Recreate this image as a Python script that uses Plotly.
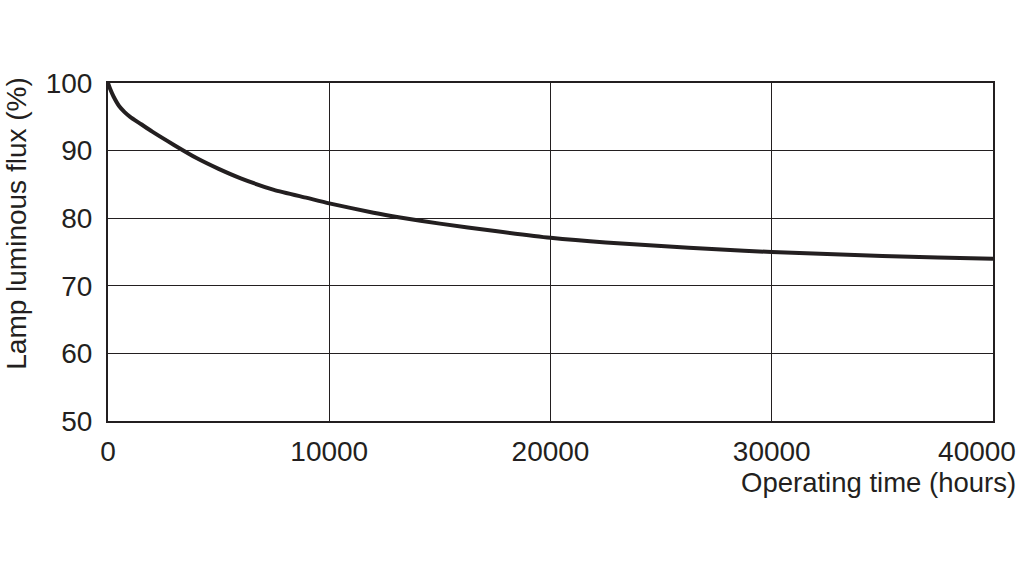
import plotly.graph_objects as go

hours = [0, 100, 250, 500, 750, 1000, 1500, 2000, 3000, 4000, 5000, 6000, 7500, 9000, 10000, 12000, 13200, 15000, 17500, 20000, 22500, 25000, 27500, 30000, 32500, 35000, 37500, 40000]
flux = [100, 99.1, 98.0, 96.6, 95.7, 95.0, 93.9, 92.8, 90.8, 88.9, 87.3, 85.9, 84.2, 83.0, 82.2, 80.8, 80.1, 79.2, 78.1, 77.1, 76.4, 75.9, 75.4, 75.0, 74.7, 74.4, 74.2, 74.0]

x_ticks = [0, 10000, 20000, 30000, 40000]
y_ticks = [50, 60, 70, 80, 90, 100]

font = "Liberation Sans, Arial, sans-serif"
ink = "#231f20"

fig = go.Figure()
fig.add_trace(go.Scatter(x=hours, y=flux, mode="lines",
                         line=dict(color=ink, width=4, shape="spline", smoothing=0.6),
                         hoverinfo="skip", showlegend=False, cliponaxis=False))

common_x = dict(range=[0, 40000], zeroline=False, ticks="",
                automargin=False, tickfont=dict(family=font, size=28, color=ink))

fig.update_layout(
    width=1024, height=578,
    margin=dict(l=108, r=31, t=83, b=157),
    paper_bgcolor="white", plot_bgcolor="white",
    font=dict(family=font, size=28, color=ink),
    xaxis=dict(**common_x, tickvals=x_ticks[:-1], ticktext=[str(v) for v in x_ticks[:-1]],
               showgrid=True, gridcolor=ink, gridwidth=1, ticklabelstandoff=4,
               showline=True, linecolor=ink, linewidth=2, mirror=True),
    xaxis2=dict(**common_x, tickvals=x_ticks[-1:], ticktext=[str(v) for v in x_ticks[-1:]],
                overlaying="x", side="bottom", showgrid=False, showline=False,
                ticklabelstandoff=11, ticklabelshift=-16, ticklabeloverflow="allow"),
    yaxis=dict(range=[50, 100], tickvals=y_ticks, ticktext=[str(v) for v in y_ticks],
               showgrid=True, gridcolor=ink, gridwidth=1, automargin=False,
               showline=True, linecolor=ink, linewidth=2, mirror=True,
               zeroline=False, ticks="", ticklabelstandoff=8,
               tickfont=dict(family=font, size=28, color=ink)),
    annotations=[
        dict(text="Operating time (hours)", xref="paper", yref="paper",
             x=1.028, y=-0.183, xanchor="right", yanchor="middle", showarrow=False,
             font=dict(family=font, size=27.5, color=ink)),
        dict(text="Lamp luminous flux (%)", xref="paper", yref="paper",
             x=-0.1034, y=0.585, xanchor="center", yanchor="middle", textangle=-90,
             showarrow=False, font=dict(family=font, size=28, color=ink)),
    ],
)
# invisible carrier so the second x axis is drawn
fig.add_trace(go.Scatter(x=[x_ticks[-1]], y=[flux[-1]], xaxis="x2", mode="markers",
                         marker=dict(opacity=0), hoverinfo="skip", showlegend=False))

fig.write_html("out.html", config={"displayModeBar": False, "staticPlot": True},
               post_script="document.body.style.margin='0';")
